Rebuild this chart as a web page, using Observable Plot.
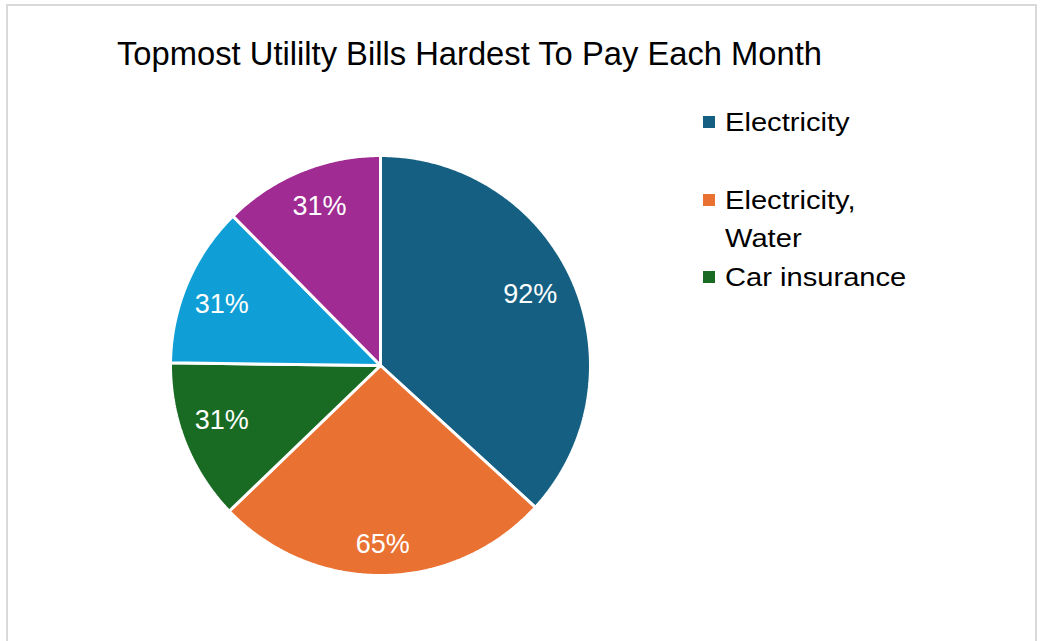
<!DOCTYPE html>
<html>
<head>
<meta charset="utf-8">
<script src="https://cdn.jsdelivr.net/npm/d3@7"></script>
<script src="https://cdn.jsdelivr.net/npm/@observablehq/plot@0.6"></script>
<style>
  html, body { margin: 0; padding: 0; background: #fff; }
  #wrap { position: relative; width: 1041px; height: 641px; overflow: hidden; font-family: "Liberation Sans", Arial, sans-serif; }
  #frame { position: absolute; left: 6px; top: 4px; width: 1031px; height: 700px; border: 2px solid #d9d9d9; box-sizing: border-box; }
  #chart { position: absolute; left: 0; top: 0; }
  #title { position: absolute; left: 117px; top: 34px; font-size: 33px; line-height: 40px; color: #000; white-space: nowrap; transform-origin: 0 0; }
  .leg { position: absolute; left: 703px; font-size: 26px; line-height: 38px; color: #000; }
  .leg .sw { position: absolute; left: 0; top: 13px; width: 12px; height: 12px; }
  .leg .tx { position: absolute; left: 22px; top: 0; white-space: nowrap; transform-origin: 0 50%; }
</style>
</head>
<body>
<div id="wrap">
  <div id="frame"></div>
  <div id="chart"></div>
  <div id="title"></div>
  <div id="legend"></div>
</div>
<script>
// ---- data ----
const title = "Topmost Utililty Bills Hardest To Pay Each Month";
const categories = ["Electricity", "Electricity, Water", "Car insurance", "Slice 4", "Slice 5"];
const values = [92, 65, 31, 31, 31];
const colors = ["#156082", "#E97132", "#196B24", "#0F9ED5", "#A02B93"];
const legendItems = ["Electricity", "Electricity, Water", "Car insurance"];
const legendLines = [["Electricity"], ["Electricity,", "Water"], ["Car insurance"]];

// ---- label placement tweaks (layout only: radius fraction, angle nudge in degrees) ----
const labelRadius = [0.79, 0.85, 0.80, 0.81, 0.81];
const labelNudge = [-1.8, 0, 2.5, -1.9, 1.3];

// ---- build slice geometry from the values ----
const total = d3.sum(values);
const slicePts = [];
const labels = [];
let acc = 0;
categories.forEach((name, i) => {
  const a0 = acc / total * 2 * Math.PI;
  acc += values[i];
  const a1 = acc / total * 2 * Math.PI;
  slicePts.push({name, x: 0, y: 0});
  const n = Math.max(2, Math.ceil((a1 - a0) / (Math.PI / 360)));
  for (let k = 0; k <= n; k++) {
    const t = a0 + (a1 - a0) * k / n;
    slicePts.push({name, x: Math.sin(t), y: Math.cos(t)});
  }
  slicePts.push({name, x: 0, y: 0});
  const am = (a0 + a1) / 2 + labelNudge[i] * Math.PI / 180;
  labels.push({name, x: labelRadius[i] * Math.sin(am), y: labelRadius[i] * Math.cos(am), text: values[i] + "%"});
});

const plot = Plot.plot({
  width: 1041,
  height: 641,
  margin: 0,
  style: {background: "transparent", fontFamily: "'Liberation Sans', Arial, sans-serif"},
  x: {domain: [-1, 1], range: [170, 590], axis: null},
  y: {domain: [-1, 1], range: [575, 155], axis: null},
  color: {domain: categories, range: colors},
  marks: [
    Plot.line(slicePts, {x: "x", y: "y", z: "name", fill: "name", stroke: "white", strokeWidth: 3, strokeLinejoin: "miter"}),
    Plot.text(labels, {x: "x", y: "y", text: "text", fill: "white", fontSize: 27})
  ]
});
document.getElementById("chart").appendChild(plot);

// ---- title (scaled to the reference's narrow width) ----
const t = document.getElementById("title");
t.textContent = title;
const w = t.getBoundingClientRect().width;
t.style.transform = `scaleX(${705 / w})`;

// ---- legend ----
const legTops = [103, 181, 258];
const leg = document.getElementById("legend");
legendItems.forEach((name, i) => {
  const item = document.createElement("div");
  item.className = "leg";
  item.style.top = legTops[i] + "px";
  const sw = document.createElement("div");
  sw.className = "sw";
  sw.style.background = colors[categories.indexOf(name)];
  const tx = document.createElement("div");
  tx.className = "tx";
  tx.innerHTML = legendLines[i].join("<br>");
  tx.style.transform = "scaleX(1.12)";
  item.appendChild(sw);
  item.appendChild(tx);
  leg.appendChild(item);
});
</script>
</body>
</html>
